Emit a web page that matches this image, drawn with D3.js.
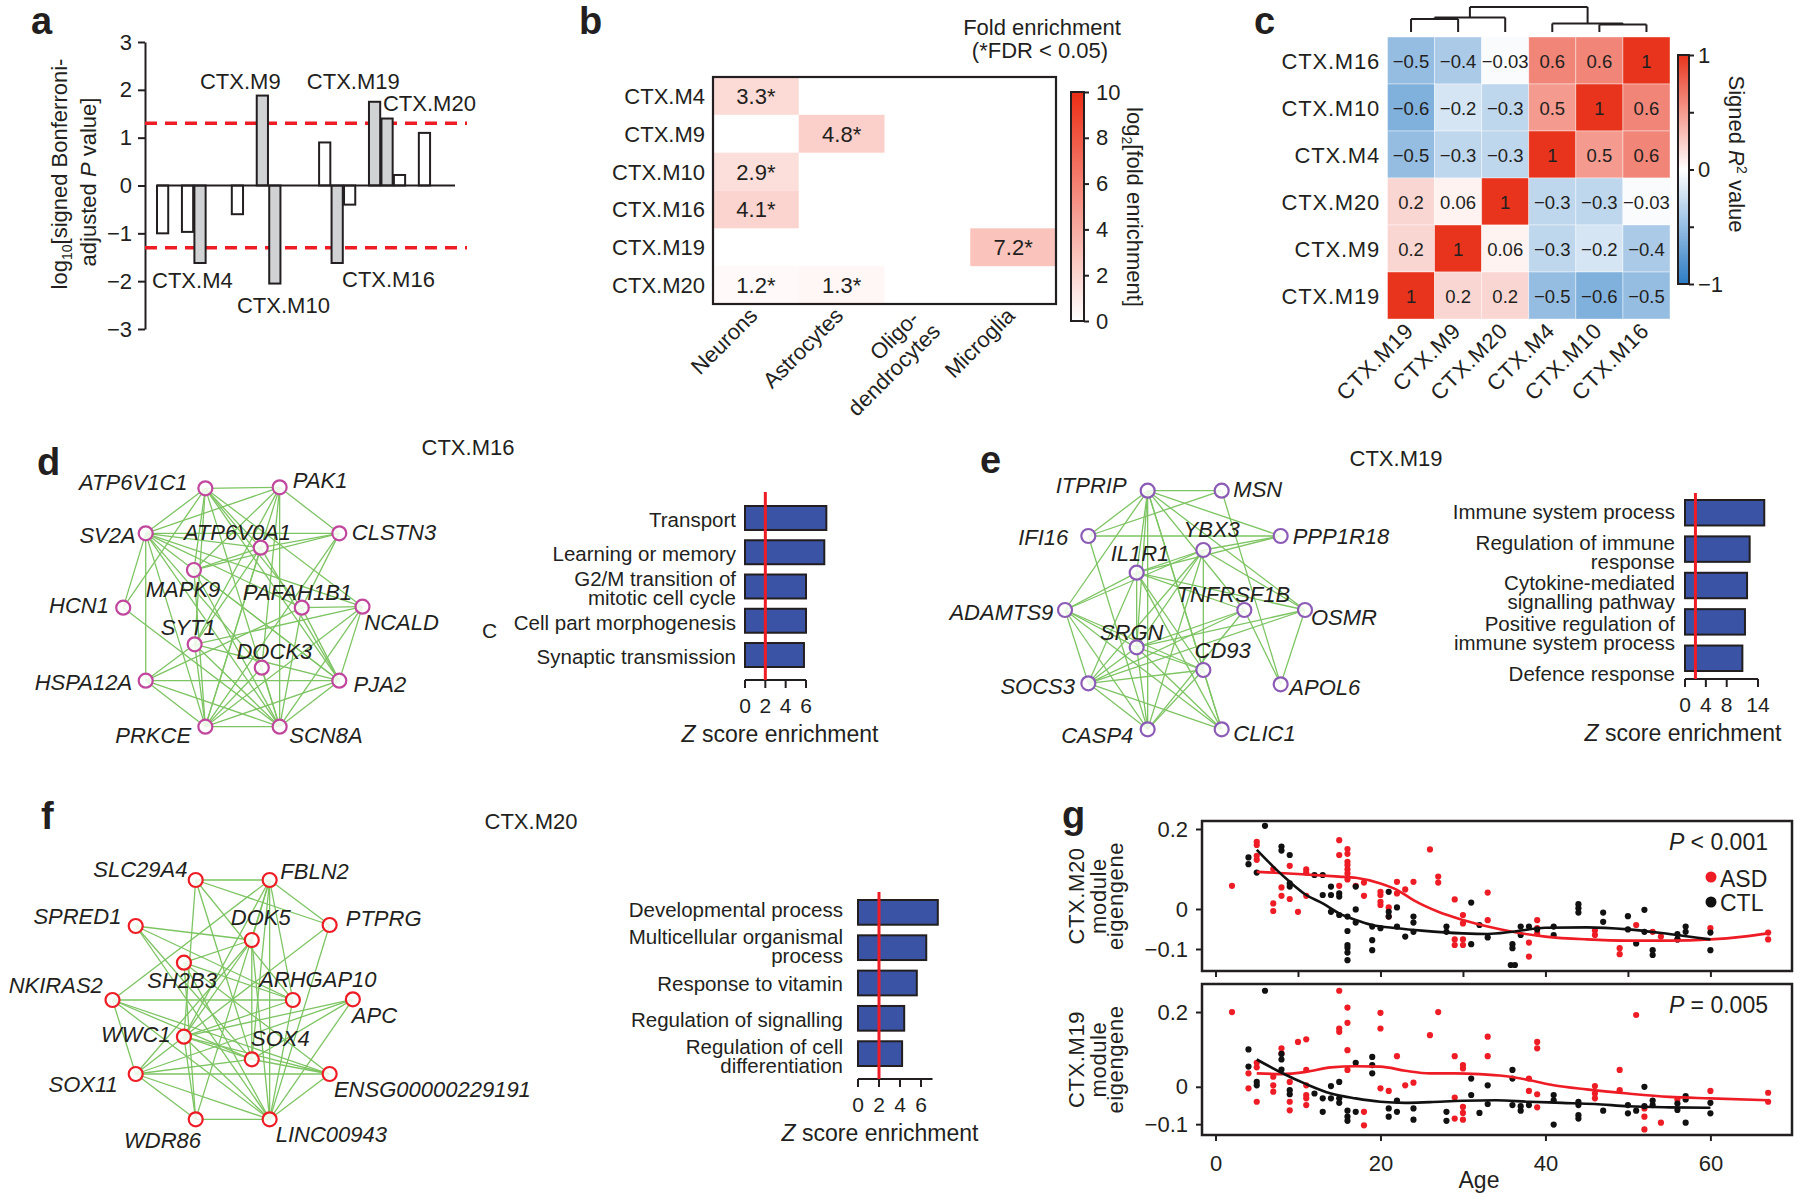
<!DOCTYPE html>
<html>
<head>
<meta charset="utf-8">
<script src="https://d3js.org/d3.v7.min.js"></script>
<style>
  body { margin: 0; background: #fff; }
  text { font-family: "Liberation Sans", Arial, Helvetica, sans-serif; fill: #231f20; }
</style>
</head>
<body>
<script>
// ---------------- panel a : module-level association
const aValues = [-1.0, 0, -0.97, -1.62, 0, 0, -0.6, 0, 1.88, -2.05, 0, 0, 0, 0.9, -1.62, -0.4, 0, 1.75, 1.4, 0.22, 0, 1.1, 0, 0];
const aSignificant = [3, 8, 9, 14, 17, 18];
const aLabelText = ["CTX.M4", "CTX.M9", "CTX.M10", "CTX.M16", "CTX.M19", "CTX.M20"];
const aLabelSlot = [-0.4, 3.46, 6.44, 14.9, 12.07, 18.2];
const aLabelValue = [-2.14, 2.02, -2.67, -2.12, 2.02, 1.56];
const aTicks = [-3, -2, -1, 0, 1, 2, 3];
const aThreshold = 1.3;

// ---------------- panel b : cell type enrichment
const bModules = ["CTX.M4", "CTX.M9", "CTX.M10", "CTX.M16", "CTX.M19", "CTX.M20"];
const bCellTypes = ["Neurons", "Astrocytes", "Oligodendrocytes", "Microglia"];
const bCellLabels = [["Neurons"], ["Astrocytes"], ["Oligo-", "dendrocytes"], ["Microglia"]];
const bHitModule = ["CTX.M4", "CTX.M9", "CTX.M10", "CTX.M16", "CTX.M19", "CTX.M20", "CTX.M20"];
const bHitCell = ["Neurons", "Astrocytes", "Neurons", "Neurons", "Microglia", "Neurons", "Astrocytes"];
const bHitFold = [3.3, 4.8, 2.9, 4.1, 7.2, 1.2, 1.3];
const bScaleTicks = [0, 2, 4, 6, 8, 10];

// ---------------- panel c : module eigengene correlation
const cModules = ["CTX.M19", "CTX.M9", "CTX.M20", "CTX.M4", "CTX.M10", "CTX.M16"];
const cRows = ["CTX.M16", "CTX.M10", "CTX.M4", "CTX.M20", "CTX.M9", "CTX.M19"];
const cR2 = [
  [-0.5, -0.4, -0.03, 0.6, 0.6, 1],
  [-0.6, -0.2, -0.3, 0.5, 1, 0.6],
  [-0.5, -0.3, -0.3, 1, 0.5, 0.6],
  [0.2, 0.06, 1, -0.3, -0.3, -0.03],
  [0.2, 1, 0.06, -0.3, -0.2, -0.4],
  [1, 0.2, 0.2, -0.5, -0.6, -0.5]
];
const cTree = {h: 1.0, children: [
  {h: 0.58, children: [{h: 0.52, children: [{leaf: "CTX.M19"}, {leaf: "CTX.M9"}]}, {leaf: "CTX.M20"}]},
  {h: 0.34, children: [{leaf: "CTX.M4"}, {h: 0.30, children: [{leaf: "CTX.M10"}, {leaf: "CTX.M16"}]}]}
]};

// ---------------- panel d : CTX.M16 network + GO
const dGenes = ["ATP6V1C1", "PAK1", "SV2A", "CLSTN3", "ATP6V0A1", "MAPK9", "HCN1", "PAFAH1B1", "NCALD", "SYT1", "DOCK3", "HSPA12A", "PJA2", "PRKCE", "SCN8A"];
const dLayout = [[575,175],[783,172],[408,310],[950,310],[730,353],[543,420],[345,533],[845,533],[1015,530],[545,643],[733,713],[408,752],[950,752],[575,890],[783,890]];
const dEdges = [
  ["ATP6V1C1","PAK1"],["ATP6V1C1","SV2A"],["ATP6V1C1","HCN1"],["ATP6V1C1","MAPK9"],["ATP6V1C1","SYT1"],["ATP6V1C1","ATP6V0A1"],
  ["ATP6V1C1","PAFAH1B1"],["ATP6V1C1","PJA2"],["ATP6V1C1","SCN8A"],["ATP6V1C1","NCALD"],
  ["PAK1","SV2A"],["PAK1","CLSTN3"],["PAK1","MAPK9"],["PAK1","SCN8A"],["PAK1","SYT1"],["PAK1","PRKCE"],["PAK1","DOCK3"],
  ["SV2A","CLSTN3"],["SV2A","ATP6V0A1"],["SV2A","PAFAH1B1"],["SV2A","NCALD"],["SV2A","PJA2"],["SV2A","HSPA12A"],["SV2A","HCN1"],
  ["SV2A","PRKCE"],["SV2A","SCN8A"],["SV2A","DOCK3"],
  ["CLSTN3","MAPK9"],["CLSTN3","ATP6V0A1"],["CLSTN3","PAFAH1B1"],["CLSTN3","PRKCE"],
  ["ATP6V0A1","MAPK9"],["ATP6V0A1","PJA2"],["ATP6V0A1","SYT1"],["ATP6V0A1","PRKCE"],
  ["MAPK9","PJA2"],["MAPK9","PRKCE"],["MAPK9","SCN8A"],
  ["HCN1","SCN8A"],
  ["PAFAH1B1","NCALD"],["PAFAH1B1","PJA2"],["PAFAH1B1","SCN8A"],["PAFAH1B1","HSPA12A"],
  ["NCALD","PJA2"],["NCALD","SCN8A"],["NCALD","PRKCE"],["NCALD","SYT1"],
  ["SYT1","PJA2"],["SYT1","PRKCE"],["SYT1","SCN8A"],["SYT1","HSPA12A"],
  ["DOCK3","PRKCE"],["DOCK3","SCN8A"],
  ["HSPA12A","PJA2"],["HSPA12A","SCN8A"],["HSPA12A","PRKCE"],
  ["PJA2","PRKCE"],["PJA2","SCN8A"],["PRKCE","SCN8A"]
];
const dTerms = [["Transport"], ["Learning or memory"], ["G2/M transition of", "mitotic cell cycle"], ["Cell part morphogenesis"], ["Synaptic transmission"]];
const dZ = [8.0, 7.8, 6.0, 6.0, 5.8];
const dZTicks = [0, 2, 4, 6];

// ---------------- panel e : CTX.M19 network + GO
const eGenes = ["ITPRIP", "MSN", "IFI16", "PPP1R18", "YBX3", "IL1R1", "ADAMTS9", "TNFRSF1B", "OSMR", "SRGN", "CD93", "SOCS3", "APOL6", "CASP4", "CLIC1"];
const eLayout = [[623,152],[845,152],[445,288],[1022,288],[790,330],[590,398],[375,510],[913,510],[1095,510],[590,622],[790,690],[445,730],[1022,733],[623,868],[845,868]];
const eEdges = [
  ["ITPRIP","MSN"],["ITPRIP","IFI16"],["ITPRIP","PPP1R18"],["ITPRIP","IL1R1"],["ITPRIP","SRGN"],["ITPRIP","CASP4"],
  ["ITPRIP","CLIC1"],["ITPRIP","TNFRSF1B"],["ITPRIP","ADAMTS9"],["ITPRIP","OSMR"],["ITPRIP","CD93"],
  ["MSN","IFI16"],["MSN","APOL6"],
  ["IFI16","PPP1R18"],["IFI16","CASP4"],
  ["YBX3","ADAMTS9"],["YBX3","PPP1R18"],["YBX3","CD93"],["YBX3","SOCS3"],["YBX3","CASP4"],["YBX3","OSMR"],["YBX3","SRGN"],["YBX3","IL1R1"],
  ["IL1R1","OSMR"],["IL1R1","TNFRSF1B"],["IL1R1","ADAMTS9"],["IL1R1","SRGN"],["IL1R1","SOCS3"],["IL1R1","CLIC1"],["IL1R1","CD93"],["IL1R1","PPP1R18"],
  ["ADAMTS9","SOCS3"],["ADAMTS9","CASP4"],["ADAMTS9","CD93"],["ADAMTS9","CLIC1"],["ADAMTS9","SRGN"],
  ["TNFRSF1B","SRGN"],["TNFRSF1B","CASP4"],["TNFRSF1B","APOL6"],["TNFRSF1B","SOCS3"],
  ["OSMR","SRGN"],["OSMR","SOCS3"],["OSMR","APOL6"],
  ["SRGN","SOCS3"],["SRGN","CASP4"],["SRGN","CLIC1"],["SRGN","CD93"],
  ["SOCS3","CD93"],["SOCS3","CASP4"],["SOCS3","CLIC1"],
  ["CD93","CASP4"],["CLIC1","CD93"]
];
const eTerms = [["Immune system process"], ["Regulation of immune", "response"], ["Cytokine-mediated", "signalling pathway"], ["Positive regulation of", "immune system process"], ["Defence response"]];
const eZ = [15.2, 12.4, 11.9, 11.5, 11.0];
const eZTicks = [0, 4, 8, 14];

// ---------------- panel f : CTX.M20 network + GO
const fGenes = ["SLC29A4", "FBLN2", "SPRED1", "PTPRG", "DOK5", "SH2B3", "NKIRAS2", "ARHGAP10", "APC", "WWC1", "SOX4", "SOX11", "ENSG00000229191", "WDR86", "LINC00943"];
const fLayout = [[548,270],[755,270],[380,408],[923,405],[705,450],[515,518],[315,630],[820,630],[988,628],[515,740],[705,808],[380,852],[923,852],[548,988],[755,988]];
const fEdges = [
  ["SLC29A4","FBLN2"],["SLC29A4","PTPRG"],["SLC29A4","WWC1"],["SLC29A4","SOX4"],["SLC29A4","ARHGAP10"],
  ["FBLN2","PTPRG"],["FBLN2","DOK5"],["FBLN2","NKIRAS2"],["FBLN2","WWC1"],["FBLN2","SOX4"],["FBLN2","LINC00943"],["FBLN2","WDR86"],["FBLN2","ARHGAP10"],
  ["SPRED1","DOK5"],["SPRED1","SOX4"],["SPRED1","LINC00943"],["SPRED1","ARHGAP10"],
  ["PTPRG","LINC00943"],["PTPRG","WWC1"],
  ["DOK5","SH2B3"],["DOK5","WWC1"],["DOK5","SOX4"],["DOK5","LINC00943"],["DOK5","SOX11"],
  ["SH2B3","ARHGAP10"],["SH2B3","LINC00943"],["SH2B3","WDR86"],["SH2B3","ENSG00000229191"],
  ["NKIRAS2","ARHGAP10"],["NKIRAS2","SOX11"],["NKIRAS2","ENSG00000229191"],["NKIRAS2","LINC00943"],["NKIRAS2","SOX4"],
  ["ARHGAP10","WWC1"],["ARHGAP10","LINC00943"],
  ["APC","WWC1"],["APC","SOX11"],["APC","LINC00943"],["APC","SOX4"],
  ["WWC1","ENSG00000229191"],["WWC1","WDR86"],["WWC1","LINC00943"],["WWC1","SOX4"],["WWC1","SOX11"],
  ["SOX4","SOX11"],["SOX4","ENSG00000229191"],
  ["SOX11","ENSG00000229191"],["SOX11","WDR86"],["SOX11","LINC00943"],
  ["WDR86","LINC00943"],["ENSG00000229191","LINC00943"]
];
const fTerms = [["Developmental process"], ["Multicellular organismal", "process"], ["Response to vitamin"], ["Regulation of signalling"], ["Regulation of cell", "differentiation"]];
const fZ = [7.6, 6.5, 5.6, 4.4, 4.2];
const fZTicks = [0, 2, 4, 6];

// ---------------- panel g : eigengene vs age, [age, eigengene]
const m20ASD = [[2,0.058],[5,0.133],[5,0.123],[5,0.168],[5,0.160],[7,0.014],[7,-0.005],[7,0.100],[8,0.054],[8,0.033],[9,0.108],[9,0.025],[10,-0.007],[11,0.099],[11,0.091],[11,0.033],[15,0.172],[15,0.135],[15,0.058],[16,0.150],[16,0.138],[16,0.118],[16,0.110],[16,0.099],[16,0.089],[16,0.074],[17,0.058],[18,0.033],[18,0.066],[20,0.043],[20,0.035],[20,0.018],[20,0.010],[21,0.004],[21,-0.019],[22,0.068],[22,0.039],[23,0.049],[24,0.068],[26,0.149],[27,0.081],[27,0.066],[29,0.024],[29,-0.076],[29,-0.090],[30,-0.015],[30,-0.036],[30,-0.076],[30,-0.090],[33,0.041],[33,-0.028],[38,-0.084],[38,-0.119],[39,-0.028],[39,-0.048],[39,-0.061],[46,-0.054],[46,-0.065],[49,-0.098],[49,-0.113],[51,-0.040],[53,-0.057],[54,-0.069],[56,-0.076],[60,-0.048],[67,-0.059],[67,-0.076]];
const m20CTL = [[4,0.129],[4,0.112],[5,0.091],[6,0.208],[8,0.156],[8,0.146],[9,0.135],[9,0.064],[9,0.056],[12,0.085],[13,0.085],[13,0.035],[14,0.056],[14,0.035],[14,-0.007],[15,0.039],[15,0.031],[15,-0.015],[16,-0.019],[16,-0.055],[16,-0.090],[16,-0.097],[16,-0.109],[16,-0.128],[17,0.056],[17,-0.001],[17,-0.034],[19,-0.044],[19,-0.078],[19,-0.103],[20,-0.048],[21,0.043],[21,-0.007],[21,-0.019],[22,0.004],[22,-0.044],[23,-0.069],[24,-0.019],[24,-0.034],[24,-0.057],[28,-0.044],[28,-0.057],[31,0.016],[31,-0.088],[32,-0.040],[33,-0.071],[36,-0.088],[36,-0.098],[35.8,-0.140],[36.3,-0.140],[37,-0.044],[37,-0.065],[38,-0.044],[39,-0.051],[41,-0.044],[41,-0.065],[44,0.012],[44,0.002],[44,-0.009],[47,-0.009],[47,-0.032],[50,-0.018],[50,-0.051],[51,-0.086],[52,-0.002],[52,-0.057],[53,-0.103],[53,-0.115],[56,-0.063],[56,-0.076],[57,-0.044],[57,-0.057],[60,-0.059],[60,-0.103]];
const m19ASD = [[2,0.200],[4,0.036],[4,-0.004],[5,0.064],[5,0.052],[5,-0.040],[7,0.027],[7,0.004],[7,-0.013],[8,0.103],[8,0.089],[9,0.013],[9,-0.040],[9,-0.063],[10,0.120],[11,0.127],[11,0.045],[11,0.004],[11,-0.022],[11,-0.031],[11,-0.049],[15,0.257],[15,0.156],[15,0.147],[16,0.212],[16,0.171],[16,0.098],[16,0.045],[18,-0.067],[18,-0.103],[20,0.198],[20,0.156],[20,-0.004],[21,-0.011],[22,0.082],[23,0.004],[24,0.011],[26,0.138],[27,0.200],[29,0.082],[29,-0.029],[29,-0.085],[30,0.058],[30,0.049],[30,-0.054],[30,-0.070],[30,-0.088],[33,0.134],[33,0.082],[38,0.022],[38,-0.011],[39,0.120],[39,0.103],[39,-0.020],[39,-0.055],[46,0.002],[46,-0.018],[46,-0.031],[49,0.045],[49,-0.009],[51,0.192],[52,-0.058],[52,-0.080],[52,-0.114],[54,-0.096],[56,-0.034],[60,-0.011],[67,-0.016],[67,-0.040]];
const m19CTL = [[4,0.100],[4,0.054],[5,0.013],[5,0.004],[6,0.257],[8,0.088],[8,0.073],[8,0.046],[9,-0.009],[9,-0.020],[12,-0.018],[13,-0.031],[13,-0.067],[14,0.002],[14,-0.031],[15,0.013],[15,-0.031],[15,-0.043],[16,-0.064],[16,-0.080],[16,-0.091],[17,-0.067],[17,0.064],[19,0.080],[19,0.058],[19,0.036],[21,-0.058],[21,-0.080],[22,-0.067],[22,-0.037],[24,-0.058],[24,-0.088],[28,-0.067],[28,-0.091],[31,0.022],[31,-0.022],[32,-0.070],[33,0.004],[33,-0.046],[36,0.045],[36,0.022],[36,-0.049],[37,-0.052],[37,-0.064],[38,-0.049],[41,-0.022],[41,-0.036],[41,-0.101],[44,-0.040],[44,-0.049],[44,-0.076],[44,-0.085],[47,-0.064],[50,-0.049],[50,-0.071],[51,-0.064],[52,0.000],[52,-0.052],[53,-0.037],[53,-0.049],[56,-0.045],[56,-0.062],[57,-0.025],[57,-0.034],[57,-0.096],[60,-0.043],[60,-0.071]];
const m20FitASD = [[5,0.093],[10,0.0875],[15,0.081],[17,0.078],[20,0.064],[22,0.048],[24,0.022],[27,-0.007],[30,-0.0275],[33,-0.044],[36,-0.057],[40,-0.069],[45,-0.076],[50,-0.079],[55,-0.079],[60,-0.076],[64,-0.069],[67,-0.061]];
const m20FitCTL = [[5,0.148],[7,0.106],[9,0.068],[11,0.035],[13,0.014],[15,-0.011],[17,-0.0275],[19,-0.04],[22,-0.048],[25,-0.054],[30,-0.061],[33,-0.0625],[36,-0.057],[40,-0.047],[45,-0.046],[50,-0.051],[55,-0.0625],[60,-0.076]];
const m19FitASD = [[5,0.036],[8,0.034],[11,0.04],[14,0.052],[17,0.055],[20,0.054],[23,0.043],[26,0.036],[29,0.036],[32,0.034],[35,0.029],[38,0.018],[41,0.004],[45,-0.007],[50,-0.018],[55,-0.027],[60,-0.031],[67,-0.036]];
const m19FitCTL = [[5,0.073],[8,0.0375],[11,0.007],[14,-0.018],[17,-0.031],[20,-0.04],[23,-0.043],[26,-0.041],[30,-0.0375],[34,-0.036],[38,-0.04],[42,-0.043],[46,-0.046],[50,-0.052],[55,-0.055],[60,-0.056]];
const gYTicks = [0.2, 0, -0.1];
const gAgeTicks = [0, 20, 40, 60];

// =====================================================================
const INK = "#231f20", RED = "#ee1c25", GREEN = "#7dc462", BAR = "#3a53a4";
const svg = d3.select("body").append("svg").attr("width", 1800).attr("height", 1200);
const fmt = v => v < 0 ? "\u2212" + Math.abs(v) : String(v);

function txt(x, y, s, size, anchor, g) {
  return (g || svg).append("text").attr("x", x).attr("y", y).attr("font-size", size || 22)
    .attr("text-anchor", anchor || "start").text(s);
}
function rich(x, y, parts, size, anchor, transform) {
  const t = svg.append("text").attr("font-size", size || 22).attr("text-anchor", anchor || "middle");
  if (transform) t.attr("transform", transform); else t.attr("x", x).attr("y", y);
  parts.forEach(p => {
    const s = t.append("tspan").text(p.t);
    if (p.it) s.attr("font-style", "italic");
    if (p.dy) s.attr("dy", p.dy);
    if (p.size) s.attr("font-size", p.size);
  });
  return t;
}
function styleAxis(g, size) {
  g.attr("font-family", null).attr("font-size", size || 22).attr("color", INK);
  g.selectAll("line").attr("stroke-width", 2);
  g.selectAll("path").attr("stroke-width", 2);
}

// panel letters
[["a", 31, 34], ["b", 579, 34], ["c", 1254, 34], ["d", 37, 475], ["e", 980, 473], ["f", 41, 829], ["g", 1062, 828]]
  .forEach(([s, x, y]) => txt(x, y, s, 38).attr("font-weight", "bold"));

// ---------------- panel a
(function () {
  const x = d3.scaleBand().domain(d3.range(aValues.length)).range([157, 455]).paddingInner(0.1).paddingOuter(0);
  const slot = d3.scaleLinear().domain([0, aValues.length]).range([157, 455]);
  const y = d3.scaleLinear().domain([-3, 3]).range([329, 42]);
  const ax = svg.append("g").attr("transform", "translate(145,0)")
    .call(d3.axisLeft(y).tickValues(aTicks).tickSize(7).tickSizeOuter(0).tickPadding(6).tickFormat(fmt));
  styleAxis(ax, 22);
  [aThreshold, -aThreshold].forEach(t => svg.append("line")
    .attr("x1", 145).attr("x2", 467).attr("y1", y(t)).attr("y2", y(t))
    .attr("stroke", RED).attr("stroke-width", 3.5).attr("stroke-dasharray", "12,8"));
  svg.append("g").selectAll("rect").data(aValues.map((v, i) => ({v, i})).filter(d => d.v !== 0))
    .join("rect")
    .attr("x", d => x(d.i)).attr("width", x.bandwidth())
    .attr("y", d => y(Math.max(0, d.v))).attr("height", d => Math.abs(y(d.v) - y(0)))
    .attr("fill", d => aSignificant.includes(d.i) ? "#d1d2d4" : "#fff")
    .attr("stroke", INK).attr("stroke-width", 2);
  svg.append("line").attr("x1", 157).attr("x2", 455).attr("y1", y(0)).attr("y2", y(0))
    .attr("stroke", INK).attr("stroke-width", 2);
  aLabelText.forEach((s, i) => txt(slot(aLabelSlot[i]), y(aLabelValue[i]), s, 22));
  rich(0, 0, [{t: "log"}, {t: "10", dy: 5, size: 14}, {t: "[signed Bonferroni-", dy: -5}], 22, "middle", "translate(67,174) rotate(-90)");
  rich(0, 0, [{t: "adjusted "}, {t: "P", it: true}, {t: " value]"}], 22, "middle", "translate(96,182) rotate(-90)");
})();

// ---------------- panel b
(function () {
  const x = d3.scaleBand().domain(bCellTypes).range([713, 1056]);
  const y = d3.scaleBand().domain(bModules).range([77, 304]);
  const color = d3.scaleLinear().domain([0, 10]).range(["#ffffff", "#ec2d14"]);
  const g = svg.append("g");
  bHitFold.forEach((f, i) => {
    g.append("rect").attr("x", x(bHitCell[i])).attr("y", y(bHitModule[i]))
      .attr("width", x.bandwidth()).attr("height", y.bandwidth()).attr("fill", color(Math.log2(f)));
    txt(x(bHitCell[i]) + x.bandwidth() / 2, y(bHitModule[i]) + y.bandwidth() / 2 + 8, f.toFixed(1) + "*", 22, "middle", g);
  });
  svg.append("rect").attr("x", 713).attr("y", 77).attr("width", 343).attr("height", 227)
    .attr("fill", "none").attr("stroke", INK).attr("stroke-width", 2.2);
  bModules.forEach(m => txt(705, y(m) + y.bandwidth() / 2 + 8, m, 22, "end"));
  bCellLabels.forEach((lines, i) => {
    const cx = x(bCellTypes[i]) + x.bandwidth() / 2;
    const ox = lines.length > 1 ? cx - 7 : cx + 3, oy = lines.length > 1 ? 320 : 317;
    const gg = svg.append("g").attr("transform", `translate(${ox},${oy}) rotate(-45)`);
    lines.forEach((s, j) => txt(j * 6, j * 24, s, 22, "end", gg));
  });
  // colour bar
  const grad = svg.append("defs").append("linearGradient").attr("id", "gb").attr("x1", 0).attr("x2", 0).attr("y1", 1).attr("y2", 0);
  bScaleTicks.forEach(t => grad.append("stop").attr("offset", t / 10).attr("stop-color", color(t)));
  const cy = d3.scaleLinear().domain([0, 10]).range([321, 92]);
  svg.append("rect").attr("x", 1071).attr("y", 92).attr("width", 13).attr("height", 229)
    .attr("fill", "url(#gb)").attr("stroke", INK).attr("stroke-width", 2);
  const ax = svg.append("g").attr("transform", "translate(1084,0)")
    .call(d3.axisRight(cy).tickValues(bScaleTicks).tickSize(5).tickSizeOuter(0).tickPadding(7));
  styleAxis(ax, 22);
  ax.select(".domain").remove();
  rich(0, 0, [{t: "log"}, {t: "2", dy: 5, size: 14}, {t: "[fold enrichment]", dy: -5}], 22, "middle", "translate(1127,207) rotate(90)");
  txt(1042, 35, "Fold enrichment", 22, "middle");
  txt(1040, 58, "(*FDR < 0.05)", 22, "middle");
})();

// ---------------- panel c
(function () {
  const x = d3.scaleBand().domain(cModules).range([1387.5, 1670]);
  const y = d3.scaleBand().domain(cRows).range([37, 319]);
  const color = d3.scaleLinear().domain([-1, 0, 1]).range(["#2b7bc4", "#ffffff", "#e8341c"]);
  const g = svg.append("g");
  cRows.forEach((r, i) => cModules.forEach((c, j) => {
    const v = cR2[i][j];
    g.append("rect").attr("x", x(c)).attr("y", y(r)).attr("width", x.bandwidth()).attr("height", y.bandwidth())
      .attr("fill", color(v)).attr("stroke", "#fff").attr("stroke-opacity", 0.5).attr("stroke-width", 0.8);
    txt(x(c) + x.bandwidth() / 2, y(r) + y.bandwidth() / 2 + 7, fmt(v), 18.5, "middle", g);
  }));
  cRows.forEach(r => txt(1380, y(r) + y.bandwidth() / 2 + 8, r, 22, "end").attr("letter-spacing", 0.8));
  cModules.forEach(c => {
    const gg = svg.append("g").attr("transform", `translate(${x(c) + x.bandwidth() / 2 + 4},332) rotate(-45)`);
    txt(0, 0, c, 22, "end", gg).attr("letter-spacing", 0.8);
  });
  // dendrogram
  const hy = d3.scaleLinear().domain([0, 1]).range([32, 7]);
  const root = d3.hierarchy(cTree);
  root.eachAfter(n => {
    n.px = n.data.leaf ? x(n.data.leaf) + x.bandwidth() / 2 : d3.mean(n.children, k => k.px);
    n.py = hy(n.data.h || 0);
  });
  const dg = svg.append("g").attr("stroke", INK).attr("stroke-width", 2).attr("fill", "none");
  root.each(n => {
    if (!n.children) return;
    dg.append("path").attr("d", n.children.map(k =>
      `M${k.px},${k.py}V${n.py}`).join("") + `M${n.children[0].px},${n.py}H${n.children[n.children.length - 1].px}`);
  });
  // colour bar
  const grad = svg.append("defs").append("linearGradient").attr("id", "gc").attr("x1", 0).attr("x2", 0).attr("y1", 1).attr("y2", 0);
  [-1, -0.5, 0, 0.5, 1].forEach(t => grad.append("stop").attr("offset", (t + 1) / 2).attr("stop-color", color(t)));
  const cy = d3.scaleLinear().domain([-1, 1]).range([284, 55]);
  svg.append("rect").attr("x", 1678).attr("y", 55).attr("width", 11).attr("height", 229)
    .attr("fill", "url(#gc)").attr("stroke", INK).attr("stroke-width", 2);
  const ax = svg.append("g").attr("transform", "translate(1689,0)")
    .call(d3.axisRight(cy).tickValues([-1, -0.5, 0, 0.5, 1]).tickSize(5).tickSizeOuter(0).tickPadding(4)
      .tickFormat(d => Number.isInteger(d) ? fmt(d) : ""));
  styleAxis(ax, 22);
  ax.select(".domain").remove();
  rich(0, 0, [{t: "Signed "}, {t: "R", it: true}, {t: "2", dy: -8, size: 14}, {t: " value", dy: 8}], 22, "middle", "translate(1729,154) rotate(90)");
})();

// ---------------- networks
function network(genes, layout, edges, labels, ox, oy, sx, sy, color) {
  const X = d3.scaleLinear().domain([0, 1000]).range([ox, ox + 1000 / sx]);
  const Y = d3.scaleLinear().domain([0, 1000]).range([oy, oy + 1000 / sy]);
  const pos = new Map(genes.map((gname, i) => [gname, layout[i]]));
  svg.append("g").selectAll("line").data(edges).join("line")
    .attr("x1", d => X(pos.get(d[0])[0])).attr("y1", d => Y(pos.get(d[0])[1]))
    .attr("x2", d => X(pos.get(d[1])[0])).attr("y2", d => Y(pos.get(d[1])[1]))
    .attr("stroke", GREEN).attr("stroke-width", 1.3);
  genes.forEach((gname, i) => {
    const [a, dx, dy] = labels[i];
    txt(X(layout[i][0] + dx), Y(layout[i][1] + dy), gname, 22, a).attr("font-style", "italic");
  });
  svg.append("g").selectAll("circle").data(layout).join("circle")
    .attr("cx", d => X(d[0])).attr("cy", d => Y(d[1])).attr("r", 7)
    .attr("fill", "#fff").attr("fill-opacity", 0.85).attr("stroke", color).attr("stroke-width", 2.2);
}
network(dGenes, dLayout, dEdges,
  [["end",-50,5],["start",37,3],["end",-28,30],["start",35,20],["middle",-65,-23],["start",-135,80],["end",-40,17],["start",-165,-23],
   ["start",5,70],["start",-95,-28],["start",-71,-25],["end",-38,28],["start",40,33],["end",-40,50],["start",27,50]],
  0, 430, 2.8, 3, "#c1479e");
network(eGenes, eLayout, eEdges,
  [["end",-63,8],["start",35,20],["end",-60,27],["start",36,24],["middle",25,-38],["middle",10,-36],["end",-35,30],["middle",-33,-23],
   ["start",18,45],["middle",-15,-22],["middle",58,-35],["end",-40,32],["start",26,32],["end",-43,42],["start",35,35]],
  940, 440, 3, 3, "#8b5bb5");
network(fGenes, fLayout, fEdges,
  [["end",-23,-8],["start",30,-2],["end",-40,-6],["start",45,3],["middle",25,-45],["middle",-5,77],["end",-27,-20],["middle",70,-40],
   ["start",-3,72],["end",-37,15],["middle",80,-40],["end",-50,53],["start",12,68],["middle",-93,87],["start",17,67]],
  0, 790, 2.8, 3, RED);
txt(468, 455, "CTX.M16", 22, "middle");
txt(1396, 466, "CTX.M19", 22, "middle");
txt(531, 829, "CTX.M20", 22, "middle");

// ---------------- GO bar charts
function goChart(o) {
  const x = d3.scaleLinear().domain([0, o.ticks[o.ticks.length - 1]]).range([o.x0, o.x1]);
  const y = d3.scaleBand().domain(d3.range(o.z.length)).range(o.band).padding(0.3).paddingOuter(0);
  const ly = d3.scalePoint().domain(d3.range(o.z.length)).range(o.labelRange);
  svg.append("g").selectAll("rect").data(o.z).join("rect")
    .attr("x", x(0)).attr("y", (d, i) => y(i)).attr("height", y.bandwidth()).attr("width", d => x(d) - x(0))
    .attr("fill", BAR).attr("stroke", INK).attr("stroke-width", 2);
  o.terms.forEach((lines, i) => {
    const c = ly(i);
    lines.forEach((s, j) => txt(o.labelX, lines.length > 1 ? c - 3 + j * 19 : c + 7, s, 20.5, "end"));
  });
  svg.append("line").attr("x1", x(0)).attr("x2", x(o.axisMax)).attr("y1", o.axisY).attr("y2", o.axisY)
    .attr("stroke", INK).attr("stroke-width", 2);
  o.ticks.forEach(t => {
    svg.append("line").attr("x1", x(t)).attr("x2", x(t)).attr("y1", o.axisY).attr("y2", o.axisY + 8)
      .attr("stroke", INK).attr("stroke-width", 2);
    txt(x(t), o.axisY + 33, String(t), 21, "middle");
  });
  svg.append("line").attr("x1", x(2)).attr("x2", x(2)).attr("y1", o.redTop).attr("y2", o.axisY)
    .attr("stroke", RED).attr("stroke-width", 3);
  rich(o.titleX, o.axisY + 62, [{t: "Z", it: true}, {t: " score enrichment"}], 23, "middle");
}
goChart({terms: dTerms, z: dZ, ticks: dZTicks, x0: 745, x1: 806, axisMax: 6, band: [506, 667], labelRange: [520, 657],
  labelX: 736, axisY: 680, redTop: 492, titleX: 780});
goChart({terms: eTerms, z: eZ, ticks: eZTicks, x0: 1685, x1: 1758, axisMax: 14, band: [500, 671], labelRange: [512, 674],
  labelX: 1675, axisY: 679, redTop: 493, titleX: 1683});
goChart({terms: fTerms, z: fZ, ticks: fZTicks, x0: 858, x1: 921, axisMax: 7.1, band: [900, 1066], labelRange: [910, 1057],
  labelX: 843, axisY: 1079, redTop: 892, titleX: 880});
txt(482, 638, "C", 21);

// ---------------- panel g
(function () {
  const x = d3.scaleLinear().domain([0, 60]).range([1215.5, 1710.4]);
  const L = 1202, R = 1792;
  function panel(top, bottom, ydom, asd, ctl, fitA, fitC, name, ptext, ageTicks, showLabels) {
    const y = d3.scaleLinear().domain(ydom).range([bottom, top]);
    const g = svg.append("g");
    g.selectAll(".a").data(asd).join("circle").attr("cx", d => x(d[0])).attr("cy", d => y(d[1])).attr("r", 3.1).attr("fill", RED);
    g.selectAll(".c").data(ctl).join("circle").attr("cx", d => x(d[0])).attr("cy", d => y(d[1])).attr("r", 3.1).attr("fill", "#111");
    const line = d3.line().x(d => x(d[0])).y(d => y(d[1])).curve(d3.curveMonotoneX);
    g.append("path").attr("d", line(fitA)).attr("fill", "none").attr("stroke", RED).attr("stroke-width", 2.6);
    g.append("path").attr("d", line(fitC)).attr("fill", "none").attr("stroke", "#111").attr("stroke-width", 2.6);
    svg.append("rect").attr("x", L).attr("y", top).attr("width", R - L).attr("height", bottom - top)
      .attr("fill", "none").attr("stroke", INK).attr("stroke-width", 2.5);
    const ay = svg.append("g").attr("transform", `translate(${L},0)`)
      .call(d3.axisLeft(y).tickValues(gYTicks).tickSize(6).tickPadding(8).tickSizeOuter(0).tickFormat(fmt));
    styleAxis(ay, 22);
    ay.select(".domain").remove();
    const axx = svg.append("g").attr("transform", `translate(0,${bottom})`)
      .call(d3.axisBottom(x).tickValues(ageTicks).tickSize(6).tickPadding(14).tickSizeOuter(0)
        .tickFormat(d => showLabels ? d : ""));
    styleAxis(axx, 22);
    axx.select(".domain").remove();
    const my = (top + bottom) / 2;
    [[name, 1084], ["module", 1106], ["eigengene", 1123]].forEach(([s, bx]) => {
      const gg = svg.append("g").attr("transform", `translate(${bx},${my}) rotate(-90)`);
      txt(0, 0, s, 22, "middle", gg).attr("letter-spacing", 0.6);
    });
    rich(1768, top + 29, ptext, 23, "end");
  }
  panel(821, 971, [-0.155, 0.22], m20ASD, m20CTL, m20FitASD, m20FitCTL, "CTX.M20",
    [{t: "P", it: true}, {t: " < 0.001"}], [0, 10, 20, 30, 40, 50, 60], false);
  panel(984, 1135, [-0.129, 0.275], m19ASD, m19CTL, m19FitASD, m19FitCTL, "CTX.M19",
    [{t: "P", it: true}, {t: " = 0.005"}], gAgeTicks, true);
  svg.append("circle").attr("cx", 1711).attr("cy", 877).attr("r", 5.5).attr("fill", RED);
  svg.append("circle").attr("cx", 1711).attr("cy", 902).attr("r", 5.5).attr("fill", "#111");
  txt(1720, 887, "ASD", 23);
  txt(1720, 911, "CTL", 23);
  txt(1479, 1188, "Age", 23, "middle");
})();
</script>
</body>
</html>
